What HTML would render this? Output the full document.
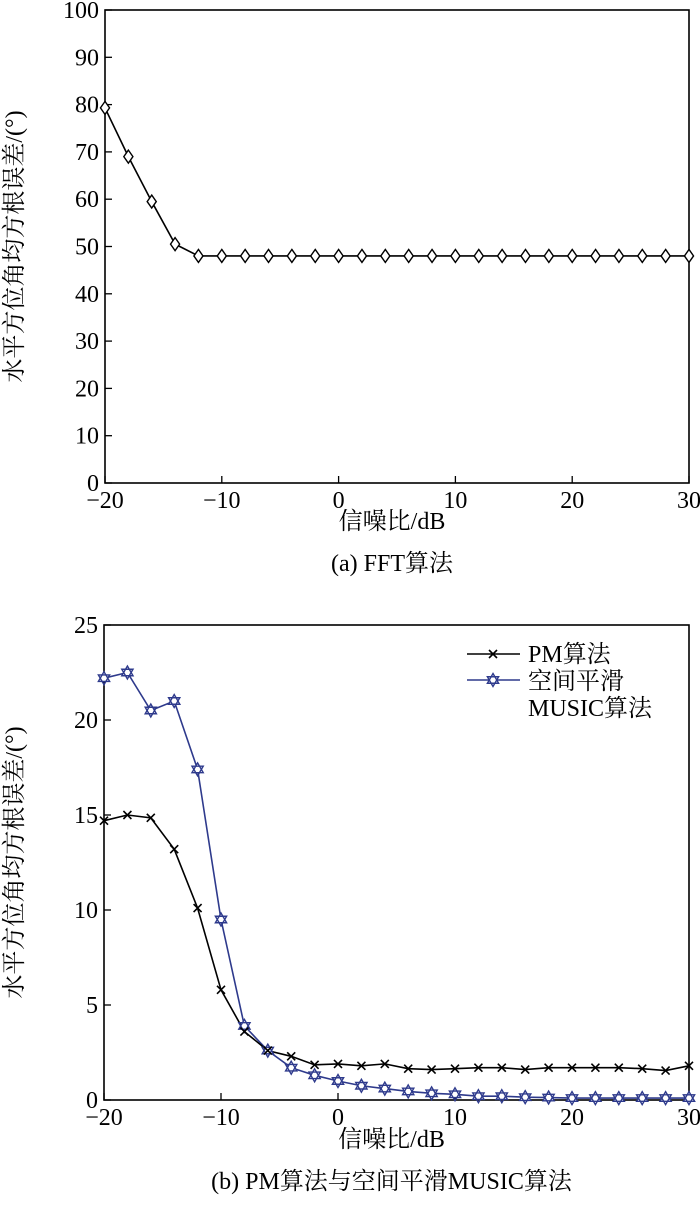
<!DOCTYPE html>
<html><head><meta charset="utf-8">
<style>
html,body{margin:0;padding:0;background:#fff;}
svg{display:block;font-family:"Liberation Serif","Noto Serif CJK SC",serif;}
</style></head>
<body>
<svg id="svg" width="700" height="1217" viewBox="0 0 700 1217" xmlns="http://www.w3.org/2000/svg">
<g id="top"></g>
<g id="bot"></g>
</svg>
<script>
const snr = [-20,-18,-16,-14,-12,-10,-8,-6,-4,-2,0,2,4,6,8,10,12,14,16,18,20,22,24,26,28,30];
const fftValues = [79.3,69,59.5,50.5,48,48,48,48,48,48,48,48,48,48,48,48,48,48,48,48,48,48,48,48,48,48];
const pmValues = [14.7,15.0,14.85,13.2,10.1,5.8,3.6,2.6,2.3,1.85,1.9,1.8,1.9,1.65,1.6,1.65,1.7,1.7,1.6,1.7,1.7,1.7,1.7,1.65,1.55,1.8];
const musicValues = [22.2,22.5,20.5,21.0,17.4,9.5,3.9,2.6,1.7,1.3,1.0,0.75,0.6,0.45,0.35,0.3,0.2,0.2,0.15,0.13,0.1,0.1,0.1,0.1,0.1,0.1];
const xTicks = [-20,-10,0,10,20,30];
const yTicksTop = [0,10,20,30,40,50,60,70,80,90,100];
const yTicksBot = [0,5,10,15,20,25];

const NS="http://www.w3.org/2000/svg";
const FS=24;
function mk(parent,tag,attrs,text){const e=document.createElementNS(NS,tag);for(const k in attrs)e.setAttribute(k,attrs[k]);if(text!==undefined)e.textContent=text;parent.appendChild(e);return e;}
function fmt(v){return v<0?'\u2212'+(-v):String(v);}

function axes(g,L,R,T,B,ymax,yTicks,xTitleY,caption,capY){
  const sx=v=>L+(v+20)/50*(R-L);
  const sy=v=>B-v/ymax*(B-T);
  const fr=mk(g,'rect',{x:L,y:T,width:R-L,height:B-T,fill:'none',stroke:'#000','stroke-width':1.6});
  
  
  xTicks.forEach(v=>{
    const x=sx(v);
    mk(g,'line',{x1:x,y1:B,x2:x,y2:B-7,stroke:'#000','stroke-width':1.3});
    const t=mk(g,'text',{x:x,y:B+25,'font-size':FS,'text-anchor':'middle'},fmt(v));
    
    
  });
  yTicks.forEach(v=>{
    const y=sy(v);
    mk(g,'line',{x1:L,y1:y,x2:L+7,y2:y,stroke:'#000','stroke-width':1.3});
    const t=mk(g,'text',{x:L-6,y:y+8,'font-size':FS,'text-anchor':'end'},String(v));
    
    
  });
  const xt=mk(g,'text',{x:(L+R)/2-5,y:xTitleY,'font-size':FS,'text-anchor':'middle'},'信噪比/dB');
  
  
  const cy=(T+B)/2;
  const yt=mk(g,'text',{x:0,y:0,'font-size':FS,'text-anchor':'middle',transform:`translate(22,${cy}) rotate(-90)`},'水平方位角均方根误差/(°)');
  
  
  const cp=mk(g,'text',{x:(L+R)/2-5,y:capY,'font-size':FS,'text-anchor':'middle'},caption);
  
  
  return {sx,sy};
}
function line(g,xs,ys,sx,sy,color,name){
  const p=mk(g,'polyline',{points:xs.map((x,i)=>sx(x)+','+sy(ys[i])).join(' '),fill:'none',stroke:color,'stroke-width':1.6});
  
  
}
function diamond(g,x,y){const s=6.5;const m=mk(g,'polygon',{points:`${x},${y-s} ${x+s*0.7},${y} ${x},${y+s} ${x-s*0.7},${y}`,fill:'#fff',stroke:'#000','stroke-width':1.4});
  
  }
function cross(g,x,y,c){const s=4;const gg=mk(g,'g',{});
  
  
  mk(gg,'line',{x1:x-s,y1:y-s,x2:x+s,y2:y+s,stroke:c,'stroke-width':1.6});mk(gg,'line',{x1:x-s,y1:y+s,x2:x+s,y2:y-s,stroke:c,'stroke-width':1.6});}
function star(g,x,y,c){const r=6.5;const tri=a=>[0,1,2].map(i=>{const ang=a+i*2*Math.PI/3;return (x+r*Math.cos(ang))+','+(y+r*Math.sin(ang));}).join(' ');
  const gg=mk(g,'g',{});
  
  
  mk(gg,'polygon',{points:tri(-Math.PI/2),fill:'#fff',stroke:c,'stroke-width':1.4});
  mk(gg,'polygon',{points:tri(Math.PI/2),fill:'none',stroke:c,'stroke-width':1.4});}

// top chart
const gt=document.getElementById('top');
const A=axes(gt,105,689,10,483,100,yTicksTop,529,'(a) FFT算法',571);
line(gt,snr,fftValues,A.sx,A.sy,'#000','fft-line');
snr.forEach((x,i)=>diamond(gt,A.sx(x),A.sy(fftValues[i])));

// bottom chart
const gb=document.getElementById('bot');
const B=axes(gb,104,689,625,1100,25,yTicksBot,1147,'(b) PM算法与空间平滑MUSIC算法',1189);
const blue='#2e3a8c';
line(gb,snr,musicValues,B.sx,B.sy,blue,'music-line');
line(gb,snr,pmValues,B.sx,B.sy,'#000','pm-line');
snr.forEach((x,i)=>star(gb,B.sx(x),B.sy(musicValues[i]),blue));
snr.forEach((x,i)=>cross(gb,B.sx(x),B.sy(pmValues[i]),'#000'));

// legend
const lg=mk(gb,'g',{});


const e1=mk(lg,'g',{});


mk(e1,'line',{x1:467,y1:654,x2:520,y2:654,stroke:'#000','stroke-width':1.6});
cross(e1,493,654,'#000');
mk(e1,'text',{x:528,y:662,'font-size':FS},'PM算法');
const e2=mk(lg,'g',{});


mk(e2,'line',{x1:467,y1:680,x2:520,y2:680,stroke:blue,'stroke-width':1.6});
star(e2,493,680,blue);
mk(e2,'text',{x:528,y:689,'font-size':FS},'空间平滑');
mk(e2,'text',{x:528,y:716,'font-size':FS},'MUSIC算法');
</script>
</body></html>
